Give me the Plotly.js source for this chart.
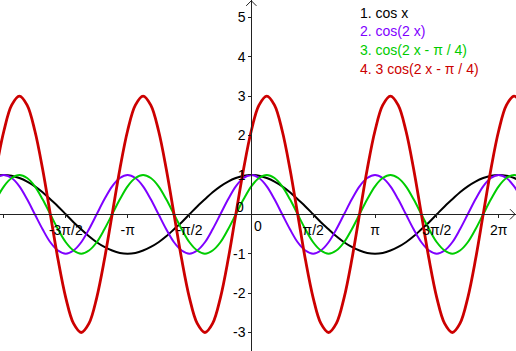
<!DOCTYPE html>
<html>
<head>
<meta charset="utf-8">
<script src="https://cdn.plot.ly/plotly-3.0.1.min.js"></script>
<style>html,body{margin:0;padding:0;background:#fff;}#chart{width:516px;height:351px;}</style>
</head>
<body>
<div id="chart"></div>
<script>
// Sample x positions (radians, steps of pi/16)
const xs = [-6.480,-6.283,-6.087,-5.890,-5.694,-5.498,-5.301,-5.105,-4.909,-4.712,-4.516,-4.320,-4.123,-3.927,-3.731,-3.534,
            -3.338,-3.142,-2.945,-2.749,-2.553,-2.356,-2.160,-1.963,-1.767,-1.571,-1.374,-1.178,-0.982,-0.785,-0.589,-0.393,-0.196,
            0,0.196,0.393,0.589,0.785,0.982,1.178,1.374,1.571,1.767,1.963,2.160,2.356,2.553,2.749,2.945,3.142,
            3.338,3.534,3.731,3.927,4.123,4.320,4.516,4.712,4.909,5.105,5.301,5.498,5.694,5.890,6.087,6.283,6.480,6.676,6.872];
// 1. cos x
const yCos = [0.98,1,0.98,0.92,0.83,0.71,0.56,0.38,0.20,0,-0.20,-0.38,-0.56,-0.71,-0.83,-0.92,-0.98,-1,-0.98,-0.92,-0.83,-0.71,-0.56,-0.38,-0.20,0,0.20,0.38,0.56,0.71,0.83,0.92,
              0.98,1,0.98,0.92,0.83,0.71,0.56,0.38,0.20,0,-0.20,-0.38,-0.56,-0.71,-0.83,-0.92,-0.98,-1,-0.98,-0.92,-0.83,-0.71,-0.56,-0.38,-0.20,0,0.20,0.38,0.56,0.71,0.83,0.92,
              0.98,1,0.98,0.92,0.83];
// 2. cos(2 x)
const yCos2 = [0.92,1,0.92,0.71,0.38,0,-0.38,-0.71,-0.92,-1,-0.92,-0.71,-0.38,0,0.38,0.71,
               0.92,1,0.92,0.71,0.38,0,-0.38,-0.71,-0.92,-1,-0.92,-0.71,-0.38,0,0.38,0.71,
               0.92,1,0.92,0.71,0.38,0,-0.38,-0.71,-0.92,-1,-0.92,-0.71,-0.38,0,0.38,0.71,
               0.92,1,0.92,0.71,0.38,0,-0.38,-0.71,-0.92,-1,-0.92,-0.71,-0.38,0,0.38,0.71,
               0.92,1,0.92,0.71,0.38];
// 3. cos(2 x - pi/4)
const yCos2s = [0.38,0.71,0.92,1,0.92,0.71,0.38,0,-0.38,-0.71,-0.92,-1,-0.92,-0.71,-0.38,0,
                0.38,0.71,0.92,1,0.92,0.71,0.38,0,-0.38,-0.71,-0.92,-1,-0.92,-0.71,-0.38,0,
                0.38,0.71,0.92,1,0.92,0.71,0.38,0,-0.38,-0.71,-0.92,-1,-0.92,-0.71,-0.38,0,
                0.38,0.71,0.92,1,0.92,0.71,0.38,0,-0.38,-0.71,-0.92,-1,-0.92,-0.71,-0.38,0,
                0.38,0.71,0.92,1,0.92];
// 4. 3 cos(2 x - pi/4)
const y3Cos2s = [1.15,2.12,2.77,3,2.77,2.12,1.15,0,-1.15,-2.12,-2.77,-3,-2.77,-2.12,-1.15,0,
                 1.15,2.12,2.77,3,2.77,2.12,1.15,0,-1.15,-2.12,-2.77,-3,-2.77,-2.12,-1.15,0,
                 1.15,2.12,2.77,3,2.77,2.12,1.15,0,-1.15,-2.12,-2.77,-3,-2.77,-2.12,-1.15,0,
                 1.15,2.12,2.77,3,2.77,2.12,1.15,0,-1.15,-2.12,-2.77,-3,-2.77,-2.12,-1.15,0,
                 1.15,2.12,2.77,3,2.77];

const seriesNames = ["1. cos x","2. cos(2 x)","3. cos(2 x - π / 4)","4. 3 cos(2 x - π / 4)"];
const seriesColors = ["#000000","#7f00ff","#00cc00","#cc0000"];
const seriesWidths = [2,2,2,2.8];
const seriesY = [yCos, yCos2, yCos2s, y3Cos2s];

const xTickVals = [-6.2832,-4.7124,-3.1416,-1.5708,1.5708,3.1416,4.7124,6.2832];
const xTickText = ["","-3π/2","-π","-π/2","π/2","π","3π/2","2π"];
const yTickVals = [-3,-2,-1,1,2,3,4,5];
const yTickText = ["-3","-2","-1","1","2","3","4","5"];

const xRange = [-6.383, 6.723];
const yRange = [-3.470, 5.439];

const traces = seriesY.map((ys,i)=>({
  x: xs, y: ys, type:'scatter', mode:'lines',
  line:{color:seriesColors[i], width:seriesWidths[i], shape:'spline', smoothing:1},
  hoverinfo:'skip', showlegend:false, name:seriesNames[i]
}));

const font = {family:'"Liberation Sans", Arial, sans-serif', size:14, color:'#000'};
const yPos0 = (0 - yRange[0])/(yRange[1]-yRange[0]);
const xPos0 = (0 - xRange[0])/(xRange[1]-xRange[0]);

const annotations = seriesNames.map((t,i)=>({
  text:t, xref:'paper', yref:'paper', x:0.694, y:0.964 - i*0.0535,
  xanchor:'left', yanchor:'middle', showarrow:false,
  font:{family:font.family, size:14, color:seriesColors[i]}
}));
annotations.push({text:'0', xref:'x', yref:'y', x:0, y:0, xshift:7, yshift:-12, showarrow:false, font:font});
annotations.push({text:'0', xref:'x', yref:'y', x:0, y:0, xshift:-11, yshift:7, showarrow:false, font:font});

const layout = {
  width:516, height:351,
  margin:{l:0,r:0,t:0,b:0,pad:0},
  paper_bgcolor:'#fff', plot_bgcolor:'#fff',
  showlegend:false,
  font: font,
  xaxis:{range:xRange, anchor:'free', position:yPos0, showgrid:false, zeroline:false,
         showline:true, linecolor:'#222', linewidth:1,
         tickmode:'array', tickvals:xTickVals, ticktext:xTickText,
         ticks:'outside', ticklen:3, tickcolor:'#222', tickfont:font},
  yaxis:{range:yRange, anchor:'free', position:xPos0, showgrid:false, zeroline:false,
         showline:true, linecolor:'#222', linewidth:1,
         tickmode:'array', tickvals:yTickVals, ticktext:yTickText,
         ticks:'outside', ticklen:3, tickcolor:'#222', tickfont:font},
  shapes:[
    {type:'path', xref:'x', yref:'y', path:'M -0.13,5.29 L 0,5.42 L 0.13,5.29', line:{color:'#222', width:1}},
    {type:'path', xref:'x', yref:'y', path:'M 6.57,0.13 L 6.70,0 L 6.57,-0.13', line:{color:'#222', width:1}}
  ],
  annotations: annotations
};

Plotly.newPlot('chart', traces, layout, {staticPlot:true, displayModeBar:false});
</script>
</body>
</html>
